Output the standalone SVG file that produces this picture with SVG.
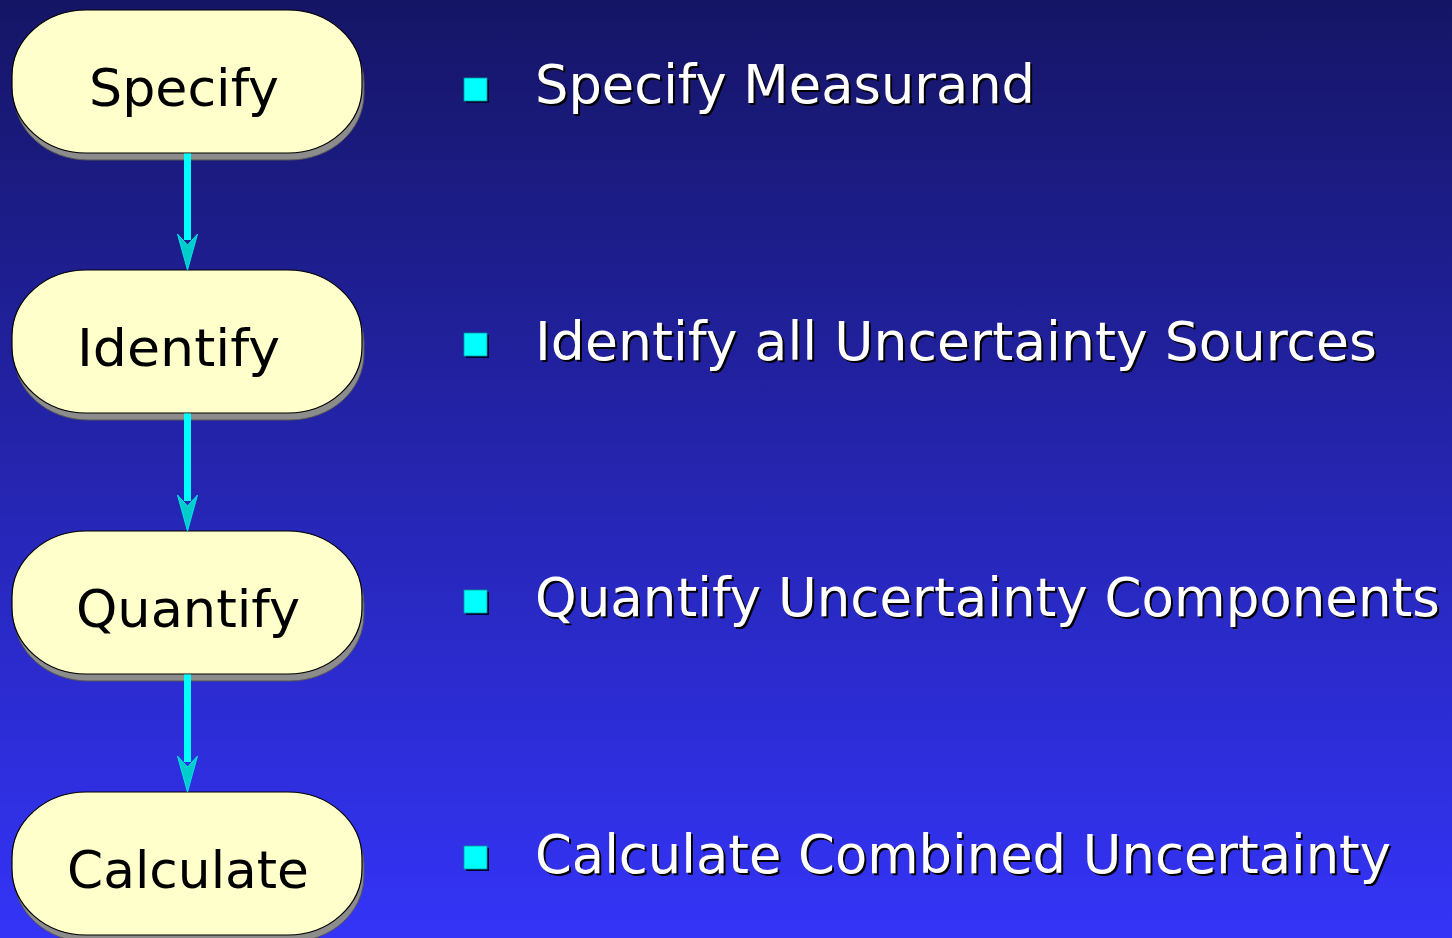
<svg xmlns="http://www.w3.org/2000/svg" width="1452" height="938" viewBox="0 0 1452 938">
<defs>
<linearGradient id="bg" x1="0" y1="0" x2="0" y2="1">
<stop offset="0" stop-color="#151566"/>
<stop offset="1" stop-color="#3434f8"/>
</linearGradient>
<marker id="ah" viewBox="0 0 38 22" refX="7" refY="11" markerWidth="38" markerHeight="22" markerUnits="userSpaceOnUse" orient="auto">
<path d="M1,1 L12,11 L1,21 L37,11 Z" fill="#00cccc" stroke="#00e6e6" stroke-width="1"/>
</marker>
</defs>
<style>
.shadow{fill:#8c8c8c;stroke:#555;stroke-width:1}
.box{fill:#ffffcc;stroke:#000;stroke-width:1.2}
.nt{font-family:"DejaVu Sans",Verdana,sans-serif;font-size:52px;fill:#000}
.bt{font-family:"DejaVu Sans",Verdana,sans-serif;font-size:52.5px;fill:#fff}
.bts{font-family:"DejaVu Sans",Verdana,sans-serif;font-size:52.5px;fill:#000}
.bul{fill:#00ffff;stroke:#009999;stroke-width:0.8}
.buls{fill:#000030}
.conn{stroke:#00ffff;stroke-width:7;fill:none}
</style>
<rect width="1452" height="938" fill="url(#bg)"/>

<g id="node-specify">
<rect class="shadow" x="14" y="17" width="350" height="143" rx="74" ry="66"/>
<rect class="box" x="12" y="10" width="350" height="143" rx="74" ry="66"/>
<text class="nt" x="89" y="106" textLength="190" lengthAdjust="spacingAndGlyphs">Specify</text>
</g>
<g id="node-identify">
<rect class="shadow" x="14" y="277" width="350" height="143" rx="74" ry="66"/>
<rect class="box" x="12" y="270" width="350" height="143" rx="74" ry="66"/>
<text class="nt" x="77" y="366" textLength="203" lengthAdjust="spacingAndGlyphs">Identify</text>
</g>
<g id="node-quantify">
<rect class="shadow" x="14" y="538" width="350" height="143" rx="74" ry="66"/>
<rect class="box" x="12" y="531" width="350" height="143" rx="74" ry="66"/>
<text class="nt" x="76" y="627" textLength="224" lengthAdjust="spacingAndGlyphs">Quantify</text>
</g>
<g id="node-calculate">
<rect class="shadow" x="14" y="799" width="350" height="143" rx="74" ry="66"/>
<rect class="box" x="12" y="792" width="350" height="143" rx="74" ry="66"/>
<text class="nt" x="67" y="888" textLength="242" lengthAdjust="spacingAndGlyphs">Calculate</text>
</g>

<g id="connectors">
<line class="conn" x1="187.5" y1="153.5" x2="187.5" y2="240" marker-end="url(#ah)"/>
<line class="conn" x1="187.5" y1="413.5" x2="187.5" y2="501" marker-end="url(#ah)"/>
<line class="conn" x1="187.5" y1="674.5" x2="187.5" y2="762" marker-end="url(#ah)"/>
</g>

<g id="bullet-1">
<rect class="buls" x="466" y="80" width="23" height="23"/>
<rect class="bul" x="464" y="78" width="23" height="23"/>
<text class="bts" x="537" y="105" textLength="500" lengthAdjust="spacingAndGlyphs">Specify Measurand</text>
<text class="bt" x="535" y="103" textLength="500" lengthAdjust="spacingAndGlyphs">Specify Measurand</text>
</g>
<g id="bullet-2">
<rect class="buls" x="466" y="335" width="23" height="23"/>
<rect class="bul" x="464" y="333" width="23" height="23"/>
<text class="bts" x="537" y="362" textLength="842" lengthAdjust="spacingAndGlyphs">Identify all Uncertainty Sources</text>
<text class="bt" x="535" y="360" textLength="842" lengthAdjust="spacingAndGlyphs">Identify all Uncertainty Sources</text>
</g>
<g id="bullet-3">
<rect class="buls" x="466" y="592" width="23" height="23"/>
<rect class="bul" x="464" y="590" width="23" height="23"/>
<text class="bts" x="537" y="618" textLength="905" lengthAdjust="spacingAndGlyphs">Quantify Uncertainty Components</text>
<text class="bt" x="535" y="616" textLength="905" lengthAdjust="spacingAndGlyphs">Quantify Uncertainty Components</text>
</g>
<g id="bullet-4">
<rect class="buls" x="466" y="848" width="23" height="23"/>
<rect class="bul" x="464" y="846" width="23" height="23"/>
<text class="bts" x="537" y="875" textLength="856" lengthAdjust="spacingAndGlyphs">Calculate Combined Uncertainty</text>
<text class="bt" x="535" y="873" textLength="856" lengthAdjust="spacingAndGlyphs">Calculate Combined Uncertainty</text>
</g>
</svg>
